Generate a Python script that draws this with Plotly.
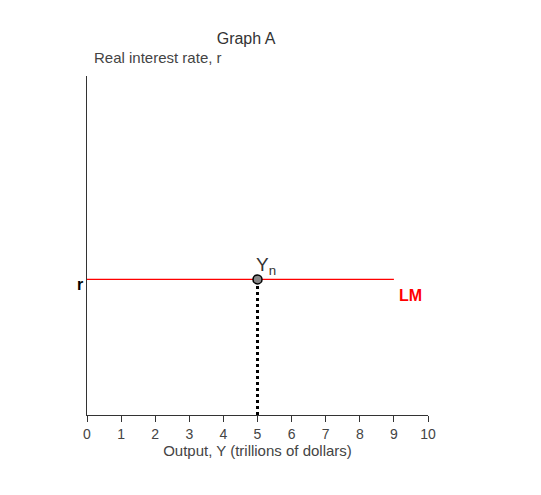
import plotly.graph_objects as go

x_ticks = list(range(0, 11))
lm_x = [0, 9]
lm_y = [4, 4]
yn_x = [5]
yn_y = [4]

fig = go.Figure()
fig.add_trace(go.Scatter(x=lm_x, y=lm_y, mode="lines", line=dict(color="red", width=1.2), hoverinfo="skip"))
fig.add_trace(go.Scatter(x=[yn_x[0], yn_x[0]], y=[0, yn_y[0]], mode="lines", line=dict(color="black", width=3, dash="dot"), hoverinfo="skip"))
fig.add_trace(go.Scatter(x=yn_x, y=yn_y, mode="markers", marker=dict(size=9, color="#888", line=dict(color="black", width=1.5))))

fig.add_annotation(x=yn_x[0], y=yn_y[0], text="Y<sub>n</sub>", showarrow=False, yshift=13, xshift=8, font=dict(size=19, color="#333"))
fig.add_annotation(x=0, y=lm_y[0], text="<b>r</b>", showarrow=False, xanchor="right", xshift=-2, yshift=-5, font=dict(size=16, color="black"))
fig.add_annotation(x=9.5, y=lm_y[0], text="<b>LM</b>", showarrow=False, yshift=-16, font=dict(size=16, color="red"))
fig.add_annotation(x=0, y=10, xref="x", yref="y", text="Real interest rate, r", showarrow=False, xanchor="left", yanchor="bottom", xshift=5, yshift=8, font=dict(size=15, color="#444"))

fig.update_layout(
    width=541, height=495, showlegend=False,
    plot_bgcolor="white", paper_bgcolor="white",
    margin=dict(l=79, r=121, t=68, b=88),
    title=dict(text="Graph A", x=0.44, xanchor="center", y=0.95, font=dict(size=16, color="#333")),
    font=dict(family="Liberation Sans, Arial, sans-serif"),
    xaxis=dict(range=[0, 10], tickvals=x_ticks, showgrid=False, zeroline=False, showline=True, linecolor="#333",
               ticks="outside", ticklen=6, tickcolor="#333", tickfont=dict(size=14, color="#444"),
               title=dict(text="Output, Y (trillions of dollars)", font=dict(size=15, color="#444"), standoff=2)),
    yaxis=dict(range=[0, 10], showgrid=False, zeroline=False, showline=True, linecolor="#333", showticklabels=False),
)
fig.write_html("out.html")
